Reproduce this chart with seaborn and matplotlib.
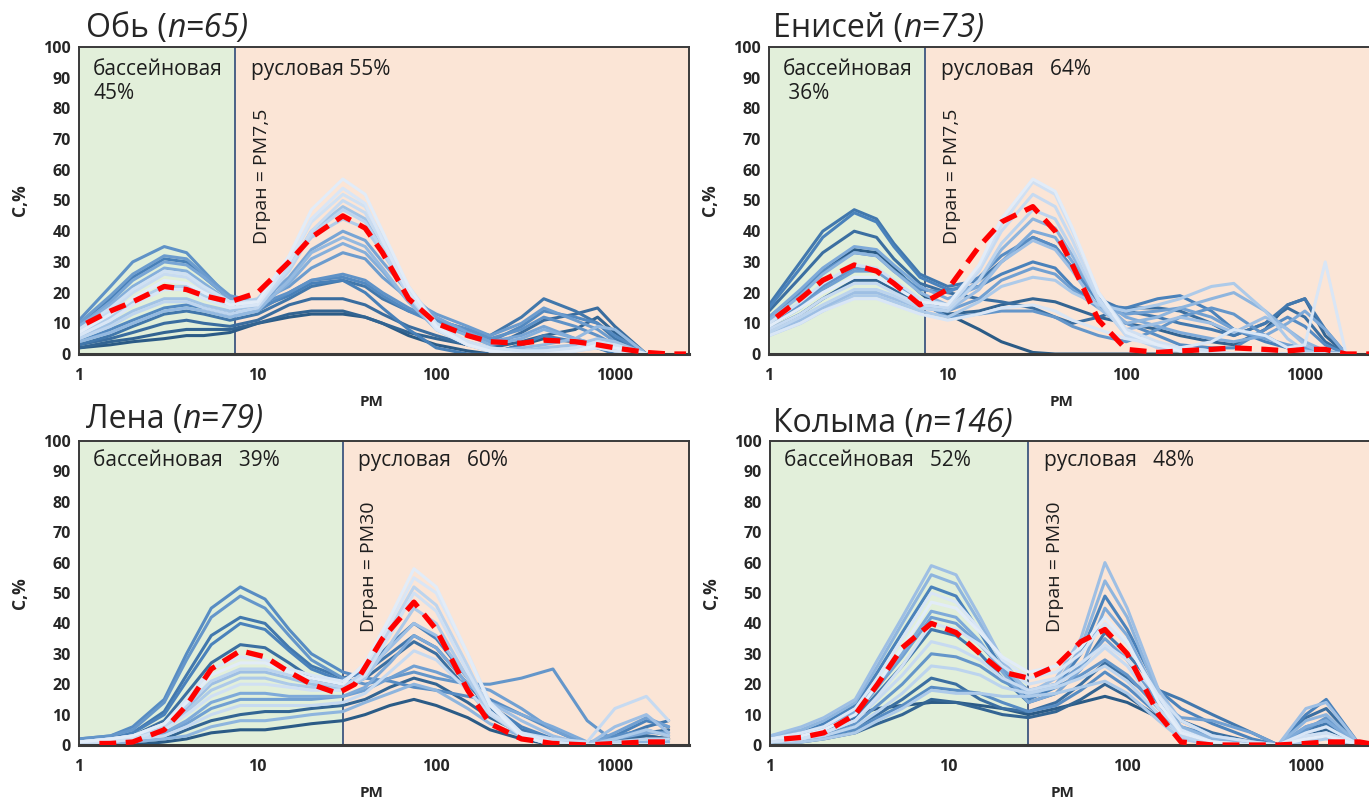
import pandas as pd
import seaborn as sns
import matplotlib.pyplot as plt

# --- data ---------------------------------------------------------------------
# PM grid (fraction size) for each river and the individual curves C,%

ob_pm = [1, 1.5, 2, 3, 4, 5, 7, 10, 15, 20, 30, 40, 50, 70, 100, 150, 200, 300, 400, 600, 800, 1000, 1500]
ob_curves = [
    [2, 3, 4, 5, 6, 6, 7, 10, 12, 13, 13, 12, 10, 6, 3, 1, 0, 3, 5, 4, 2, 1, 0],
    [2, 4, 5, 7, 8, 8, 8, 10, 13, 14, 14, 12, 10, 7, 5, 3, 2, 4, 6, 8, 12, 7, 0],
    [3, 5, 7, 10, 11, 10, 9, 11, 16, 18, 18, 16, 13, 9, 6, 3, 2, 7, 11, 13, 15, 9, 0],
    [3, 6, 9, 13, 14, 13, 11, 13, 18, 22, 24, 22, 18, 14, 11, 8, 6, 12, 18, 14, 10, 5, 0],
    [10, 18, 25, 31, 30, 25, 18, 15, 19, 23, 24, 20, 15, 8, 2, 0, 0, 3, 6, 4, 2, 0, 0],
    [4, 8, 11, 15, 16, 15, 13, 14, 20, 24, 25, 23, 19, 14, 10, 7, 4, 9, 14, 12, 10, 6, 0],
    [11, 22, 30, 35, 33, 27, 18, 16, 20, 24, 26, 24, 20, 15, 11, 8, 5, 8, 12, 9, 6, 3, 0],
    [10, 19, 26, 32, 31, 26, 19, 17, 22, 28, 33, 31, 25, 18, 13, 9, 6, 10, 15, 11, 8, 4, 0],
    [9, 17, 24, 30, 29, 25, 18, 16, 25, 34, 40, 37, 30, 20, 12, 7, 4, 6, 9, 5, 3, 1, 0],
    [9, 16, 22, 28, 27, 23, 17, 15, 23, 31, 36, 33, 27, 17, 10, 6, 3, 5, 8, 5, 3, 1, 0],
    [4, 7, 10, 14, 15, 14, 12, 14, 24, 33, 38, 35, 28, 17, 8, 3, 1, 2, 3, 5, 9, 8, 0],
    [5, 10, 14, 18, 18, 16, 14, 16, 28, 40, 48, 44, 34, 19, 8, 3, 1, 1, 2, 3, 5, 4, 0],
    [6, 12, 17, 22, 22, 19, 16, 18, 29, 38, 44, 41, 33, 20, 9, 4, 2, 1, 1, 2, 4, 3, 0],
    [5, 9, 13, 17, 17, 15, 13, 15, 27, 39, 47, 43, 34, 19, 8, 3, 1, 0, 0, 1, 2, 1, 0],
    [8, 14, 20, 26, 25, 21, 17, 16, 28, 40, 50, 46, 36, 21, 9, 4, 1, 0, 0, 1, 3, 2, 0],
    [8, 15, 21, 27, 26, 22, 17, 17, 30, 43, 52, 48, 38, 22, 10, 4, 2, 1, 1, 2, 4, 3, 0],
    [6, 11, 16, 21, 21, 18, 15, 16, 30, 44, 54, 49, 37, 20, 8, 3, 1, 0, 0, 1, 2, 1, 0],
    [7, 13, 18, 24, 23, 20, 16, 17, 32, 47, 57, 52, 40, 22, 9, 3, 1, 0, 0, 1, 3, 2, 0],
]
ob_mean_pm = [1.1, 1.5, 2, 3, 4, 5, 7, 10, 15, 20, 30, 40, 50, 70, 100, 150, 200, 300, 400, 600, 800, 1000, 1500, 2000, 2500]
ob_mean = [10, 14, 17, 22, 21, 19, 17, 20, 30, 38, 45, 41, 33, 18, 10, 6, 4, 3.5, 4.5, 4, 3, 2, 0.5, 0, 0]

en_pm = [1, 1.5, 2, 3, 4, 5, 7, 10, 15, 20, 30, 40, 50, 70, 100, 150, 200, 300, 400, 600, 800, 1000, 1300, 1700]
en_curves = [
    [12, 20, 27, 34, 33, 28, 20, 13, 8, 4, 0.5, 0, 0, 0, 0, 0, 0, 0, 0, 0, 0, 0, 0, 0],
    [8, 13, 18, 24, 24, 21, 16, 13, 14, 16, 18, 17, 15, 12, 10, 8, 6, 4, 3, 8, 16, 18, 6, 0],
    [14, 25, 33, 40, 38, 31, 23, 20, 18, 17, 15, 12, 10, 12, 15, 15, 14, 10, 6, 10, 15, 12, 4, 0],
    [16, 30, 40, 47, 44, 36, 26, 22, 24, 30, 38, 35, 28, 18, 14, 12, 10, 8, 6, 10, 16, 18, 8, 0],
    [15, 28, 38, 46, 43, 35, 25, 21, 22, 26, 30, 28, 22, 16, 15, 18, 19, 14, 8, 4, 2, 1, 0, 0],
    [12, 20, 27, 33, 32, 27, 21, 20, 25, 32, 38, 35, 28, 17, 10, 6, 3, 2, 2, 8, 12, 9, 3, 0],
    [10, 16, 22, 28, 27, 23, 17, 12, 13, 14, 14, 12, 9, 6, 4, 8, 12, 15, 13, 6, 2, 0, 0, 0],
    [9, 15, 21, 27, 27, 23, 17, 14, 18, 24, 28, 26, 21, 15, 13, 14, 15, 12, 8, 5, 3, 2, 0, 0],
    [12, 21, 28, 35, 34, 29, 22, 18, 22, 30, 40, 38, 30, 18, 12, 9, 7, 5, 4, 6, 10, 14, 8, 0],
    [11, 19, 26, 33, 32, 27, 20, 16, 24, 34, 44, 41, 32, 18, 10, 12, 15, 18, 20, 14, 8, 4, 1, 0],
    [7, 11, 15, 20, 20, 18, 15, 14, 21, 30, 37, 34, 27, 15, 8, 10, 12, 10, 7, 12, 8, 3, 0, 0],
    [6, 10, 14, 19, 19, 17, 14, 12, 17, 22, 25, 24, 20, 16, 14, 16, 18, 22, 23, 14, 5, 1, 0, 0],
    [7, 12, 16, 21, 21, 19, 15, 14, 24, 36, 47, 44, 34, 17, 6, 2, 1, 0, 0, 0, 0, 0, 0, 0],
    [8, 13, 18, 23, 23, 20, 16, 15, 27, 40, 52, 48, 37, 18, 6, 3, 2, 1, 0, 0, 0, 0, 0, 0],
    [10, 17, 23, 29, 28, 24, 18, 16, 28, 42, 56, 52, 40, 20, 8, 4, 2, 1, 0, 0, 0, 0, 0, 0],
    [6, 10, 14, 18, 18, 16, 13, 11, 13, 15, 16, 14, 11, 8, 5, 3, 2, 4, 8, 6, 2, 3, 30, 0],
    [9, 15, 20, 25, 25, 22, 17, 16, 29, 44, 57, 53, 41, 20, 7, 3, 1, 0, 0, 0, 0, 0, 0, 0],
]
en_mean_pm = [1.1, 1.5, 2, 3, 4, 5, 7, 10, 15, 20, 30, 40, 50, 70, 100, 150, 200, 300, 400, 600, 800, 1000, 1300, 1700, 2500]
en_mean = [12, 18, 24, 29, 27, 23, 16, 21, 35, 43, 48, 40, 29, 11, 1.5, 0.5, 1, 1.5, 2, 1.5, 1, 1.5, 1.5, 0, 0]

le_pm = [1, 1.5, 2, 3, 4, 5.5, 8, 11, 15, 20, 30, 40, 55, 75, 100, 150, 200, 300, 450, 700, 1000, 1500, 2000]
le_curves = [
    [0, 0, 0, 1, 2, 4, 5, 5, 6, 7, 8, 10, 13, 15, 13, 9, 5, 2, 0, 0, 1, 3, 2],
    [0, 0, 1, 2, 5, 8, 10, 11, 11, 12, 13, 15, 19, 22, 20, 14, 9, 4, 1, 0, 1, 3, 2],
    [1, 2, 3, 8, 17, 27, 33, 32, 27, 22, 19, 22, 28, 34, 30, 18, 10, 4, 1, 0, 1, 4, 5],
    [1, 2, 4, 11, 23, 36, 42, 40, 32, 26, 22, 24, 30, 36, 32, 20, 12, 5, 2, 0, 2, 6, 8],
    [1, 2, 4, 10, 21, 33, 40, 38, 31, 25, 21, 25, 33, 40, 35, 22, 13, 6, 2, 0, 3, 8, 6],
    [2, 3, 6, 15, 30, 45, 52, 48, 38, 30, 24, 22, 21, 19, 18, 16, 15, 10, 5, 0, 3, 5, 3],
    [2, 3, 5, 14, 28, 42, 49, 45, 36, 28, 22, 20, 22, 24, 22, 20, 20, 22, 25, 8, 1, 0, 0],
    [0, 1, 2, 4, 7, 12, 15, 15, 15, 15, 16, 18, 22, 26, 24, 20, 18, 12, 5, 0, 4, 9, 6],
    [0, 1, 2, 4, 8, 14, 17, 17, 16, 16, 16, 19, 27, 36, 32, 20, 14, 10, 6, 1, 2, 4, 4],
    [0, 0, 1, 2, 3, 6, 8, 8, 9, 10, 11, 14, 17, 20, 18, 12, 7, 3, 1, 0, 0, 1, 1],
    [1, 2, 3, 6, 12, 20, 24, 24, 22, 20, 19, 24, 32, 40, 36, 22, 14, 8, 3, 0, 6, 10, 4],
    [1, 1, 2, 5, 11, 18, 22, 22, 20, 19, 18, 22, 33, 45, 40, 22, 10, 3, 1, 0, 2, 5, 3],
    [1, 2, 3, 6, 13, 21, 25, 25, 23, 21, 19, 24, 38, 52, 46, 26, 11, 3, 0, 0, 1, 2, 2],
    [0, 1, 2, 3, 6, 10, 13, 13, 13, 13, 14, 17, 24, 31, 28, 18, 10, 4, 2, 1, 12, 16, 8],
    [1, 1, 2, 5, 10, 16, 20, 20, 19, 18, 18, 23, 36, 50, 44, 24, 11, 3, 0, 0, 0, 0, 0],
    [1, 2, 3, 7, 15, 25, 29, 28, 25, 23, 21, 26, 40, 55, 50, 30, 14, 4, 1, 0, 0, 0, 0],
    [1, 2, 3, 7, 14, 23, 27, 27, 24, 22, 20, 27, 42, 58, 52, 30, 13, 3, 0, 0, 0, 0, 0],
]
le_mean_pm = [1.3, 1.5, 2, 3, 4, 5.5, 8, 11, 15, 20, 28, 35, 50, 75, 100, 150, 200, 300, 450, 700, 1000, 1500, 2000]
le_mean = [0.5, 0.5, 1, 5, 13, 25, 31, 29, 24, 20, 17, 20, 35, 47, 38, 18, 7, 2, 0.5, 0, 0.5, 1, 1]

ko_pm = [1, 1.5, 2, 3, 4, 5.5, 8, 11, 15, 20, 28, 40, 55, 75, 100, 150, 200, 300, 500, 700, 1000, 1300, 2000]
ko_curves = [
    [2, 4, 6, 10, 12, 13, 14, 14, 13, 12, 10, 12, 14, 16, 14, 9, 4, 1, 0, 0, 2, 3, 0],
    [1, 1, 2, 4, 7, 10, 15, 14, 12, 10, 9, 11, 15, 20, 16, 9, 5, 2, 0, 0, 3, 5, 0],
    [1, 2, 3, 6, 10, 15, 22, 20, 15, 12, 11, 14, 20, 27, 22, 14, 8, 4, 1, 0, 9, 12, 0],
    [1, 3, 5, 9, 17, 26, 38, 36, 30, 22, 14, 17, 25, 37, 30, 18, 15, 10, 4, 0, 5, 7, 0],
    [2, 4, 7, 13, 24, 37, 52, 49, 37, 25, 15, 19, 30, 49, 38, 18, 12, 7, 2, 0, 10, 15, 0],
    [1, 2, 3, 5, 9, 13, 19, 18, 17, 14, 11, 13, 18, 24, 19, 10, 4, 2, 0, 0, 4, 6, 0],
    [1, 2, 4, 7, 13, 20, 30, 29, 26, 21, 17, 19, 23, 28, 23, 12, 6, 3, 1, 0, 5, 9, 0],
    [2, 3, 5, 10, 19, 29, 42, 40, 33, 25, 18, 20, 26, 35, 28, 14, 9, 8, 4, 0, 6, 8, 0],
    [2, 4, 6, 11, 20, 30, 44, 42, 34, 24, 14, 17, 25, 45, 36, 15, 6, 2, 0, 0, 6, 8, 0],
    [3, 5, 8, 14, 26, 40, 56, 53, 40, 27, 16, 20, 32, 54, 42, 16, 6, 2, 0, 0, 8, 10, 0],
    [3, 6, 9, 15, 28, 42, 59, 56, 42, 28, 17, 22, 35, 60, 45, 18, 8, 3, 1, 0, 12, 14, 0],
    [1, 1, 2, 4, 8, 12, 18, 17, 17, 16, 16, 17, 19, 21, 17, 8, 2, 0, 0, 0, 1, 2, 0],
    [1, 2, 3, 6, 11, 17, 26, 25, 23, 19, 17, 19, 22, 26, 21, 10, 3, 0, 0, 0, 2, 3, 0],
    [1, 2, 4, 8, 15, 23, 34, 32, 28, 22, 18, 20, 25, 32, 26, 12, 4, 1, 0, 0, 3, 4, 0],
    [1, 2, 4, 8, 16, 26, 40, 38, 33, 26, 20, 22, 27, 33, 28, 16, 8, 3, 1, 0, 3, 4, 0],
    [2, 4, 6, 12, 22, 35, 50, 47, 38, 28, 22, 24, 30, 40, 33, 16, 5, 1, 0, 0, 4, 6, 0],
    [2, 3, 5, 10, 20, 32, 47, 45, 37, 29, 24, 26, 32, 42, 34, 14, 4, 1, 0, 0, 2, 3, 0],
]
ko_mean_pm = [1.2, 1.5, 2, 3, 4, 5.5, 8, 11, 15, 20, 28, 40, 55, 75, 100, 150, 200, 300, 500, 700, 1000, 1300, 2000, 2500]
ko_mean = [2, 2.5, 4, 10, 20, 32, 40, 37, 30, 24, 22, 26, 34, 38, 30, 10, 1, 0, 0, 0, 0.5, 1, 1, 0]

rivers = ["Обь", "Енисей", "Лена", "Колыма"]
n_samples = [65, 73, 79, 146]
boundaries = [7.5, 7.5, 30, 28]
boundary_labels = ["Dгран = PM7,5", "Dгран = PM7,5", "Dгран = PM30", "Dгран = PM30"]
basin_labels = ["бассейновая\n45%", "бассейновая\n 36%", "бассейновая   39%", "бассейновая   52%"]
channel_labels = ["русловая 55%", "русловая   64%", "русловая   60%", "русловая   48%"]

# --- style ---------------------------------------------------------------------
sns.set_style("white")
plt.rcParams["font.family"] = ["Open Sans", "DejaVu Sans"]

W, H = 1369, 801
fig = plt.figure(figsize=(W / 100, H / 100), dpi=100)

# axes boxes in pixels: left, top, width, height
boxes = [(79, 47, 610, 307), (769, 47, 610, 307), (79, 441, 610, 304), (770, 441, 610, 304)]
title_pos = [(86, 37), (773, 37), (86, 428), (773, 432)]
text_top = [0.962, 0.962, 0.972, 0.972]

shades = ["#2b5b86", "#4a82bb", "#7eaad9", "#bcd4ee", "#e2ecf8"]

panels = [
    (ob_pm, ob_curves, ob_mean_pm, ob_mean),
    (en_pm, en_curves, en_mean_pm, en_mean),
    (le_pm, le_curves, le_mean_pm, le_mean),
    (ko_pm, ko_curves, ko_mean_pm, ko_mean),
]


def to_long(pm, curves):
    rows = []
    for i, ys in enumerate(curves):
        if len(ys) != len(pm):
            raise ValueError(f"curve {i} has {len(ys)} values, grid has {len(pm)}")
        for xv, yv in zip(pm, ys):
            rows.append({"PM": xv, "C": yv, "curve": f"s{i:02d}"})
    return pd.DataFrame(rows)


for k, (pm, curves, mean_pm, mean_c) in enumerate(panels):
    l, t, w, h = boxes[k]
    ax = fig.add_axes([l / W, 1 - (t + h) / H, w / W, h / H])
    ax.set_xscale("log")
    ax.set_facecolor("#fbe5d6")
    ax.axvspan(1, boundaries[k], color="#e2efda", zorder=0, lw=0)
    ax.axvline(boundaries[k], color="#2f4a78", lw=1.2, zorder=1)

    df = to_long(pm, curves)
    pal = sns.blend_palette(shades, len(curves))
    sns.lineplot(data=df, x="PM", y="C", hue="curve", palette=pal, estimator=None,
                 lw=2.2, legend=False, ax=ax, zorder=2)
    sns.lineplot(x=mean_pm, y=mean_c, estimator=None, color="#ff0000", lw=3.8,
                 linestyle=(0, (3.2, 1.8)), ax=ax, zorder=5)

    ax.set_xlim(1, 2600)
    ax.set_ylim(0, 100)
    ax.set_yticks(range(0, 101, 10))
    ax.set_xticks([1, 10, 100, 1000])
    ax.set_xticklabels(["1", "10", "100", "1000"])
    ax.minorticks_off()
    ax.tick_params(length=0, labelsize=11.5)
    ax.tick_params(axis="y", pad=6)
    ax.tick_params(axis="x", pad=10)
    for lab in ax.get_xticklabels() + ax.get_yticklabels():
        lab.set_fontweight("bold")
    for side, sp in ax.spines.items():
        sp.set_color("#3a3a3a")
        sp.set_linewidth(1.4)
    ax.spines["bottom"].set_linewidth(2.2)

    ax.set_xlabel("PM", fontsize=11, fontweight="bold")
    ax.set_ylabel("С,%", fontsize=12.5, fontweight="bold")
    ax.xaxis.set_label_coords(0.48, -0.135)
    ax.yaxis.set_label_coords(-0.082, 0.5)

    # zone labels
    ax.text(0.023, text_top[k], basin_labels[k], transform=ax.transAxes, fontsize=15,
            va="top", ha="left", linespacing=1.2, color="#1e1e1e")
    ax.annotate(channel_labels[k], xy=(boundaries[k], text_top[k]),
                xycoords=ax.get_xaxis_transform(), xytext=(11, 0),
                textcoords="offset points", fontsize=15, va="top", ha="left", color="#1e1e1e")
    ax.annotate(boundary_labels[k], xy=(boundaries[k], 80), xytext=(19, 0),
                textcoords="offset points", rotation=90, ha="center", va="top",
                fontsize=14, color="#1e1e1e")

# panel titles: river name upright, sample size italic
renderer = fig.canvas.get_renderer()
for k in range(4):
    x, y = title_pos[k]
    t1 = fig.text(x / W, 1 - y / H, rivers[k] + " (", fontsize=23, va="baseline")
    bb = t1.get_window_extent(renderer=renderer)
    fig.text(bb.x1 / W, 1 - y / H, f"n={n_samples[k]})", fontsize=23, va="baseline",
             style="italic")

fig.savefig("out.png", dpi=100)
